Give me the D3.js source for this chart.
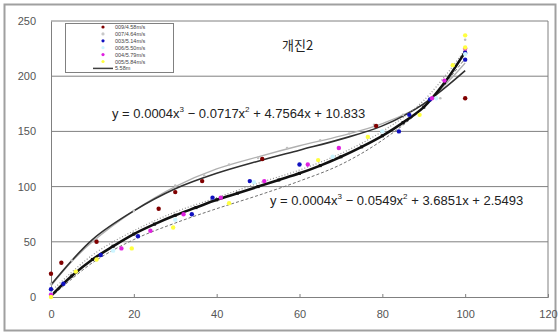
<!DOCTYPE html>
<html><head><meta charset="utf-8">
<script src="https://cdnjs.cloudflare.com/ajax/libs/d3/7.8.5/d3.min.js"></script>
<style>body{margin:0;background:#fff}svg{display:block}</style>
</head><body>
<svg id="c" width="559" height="334"></svg>
<script>
// ---- data ----
const xTicks = [0, 20, 40, 60, 80, 100, 120];
const yTicks = [0, 50, 100, 150, 200, 250];
const title = "개진2";
const eqUpper = ["y = 0.0004x", "3", " − 0.0717x", "2", " + 4.7564x + 10.833"];
const eqLower = ["y = 0.0004x", "3", " − 0.0549x", "2", " + 3.6851x + 2.5493"];
const legendNames = ["009/4.58m/s", "007/4.64m/s", "003/5.14m/s", "006/5.50m/s", "004/5.79m/s", "005/5.84m/s", "5.58m"];

const s009 = [[0,21],[2.5,31],[11,50],[26,80],[30,95],[36.5,105],[51,125],[78.5,155],[100,180]];
const s007 = [[0,12],[5,33],[11,52],[20,78],[30,101],[37,110],[43,120],[50,126],[57,135],[65,142],[72,148],[78,156],[85,165],[94,180],[100,233]];
const s003 = [[0,7],[3,12],[12,38],[21,55],[34,75],[39,90],[48,105],[60,120],[84,150],[86.5,165],[91.5,179],[100,215],[100,221]];
const s006 = [[0,3],[15,42],[30,70],[49,104],[68,127],[80,150],[93,180],[100,220]];
const s004 = [[0,2],[17,44],[24,60],[32,75],[41,90],[51.5,105],[62,120],[69.5,135],[92,180],[95,196],[100,225]];
const s005 = [[0,0],[6,23],[11,34],[19.5,44],[29.5,63],[43,85],[64.5,124],[76.5,145],[89,165],[97,210],[100,226],[100,237]];
const s558 = [[0,1],[5,19],[10,34],[15,46],[20,57],[25,66],[30,74],[35,81],[40,88],[45,94],[50,100],[55,106],[60,112],[65,119],[70,127],[75,136],[80,146],[85,158],[90,172],[95,194],[100,222]];
// trend curves
const trend007 = [[0,10],[5,32],[10,50],[20,78],[30,100],[40,116],[50,127],[60,137],[70,146],[80,157],[90,175],[100,212]];
const trendUpper = [[0,11],[10,52],[20,78],[30,98],[40,112],[50,123],[60,133],[70,143],[80,155],[90,175],[100,205]];
const trendLowerDash = [[0,0],[10,31],[20,52],[30,67],[40,80],[50,92],[60,105],[70,120],[80,142],[90,172],[100,216]];
const trendLowerDot = [[0,5],[10,38],[20,60],[30,77],[40,90],[50,103],[60,115],[70,130],[80,150],[90,178],[100,224]];

const colors = ["#800000", "#c8c8c8", "#1010c0", "#ccf5ff", "#e020e0", "#ffff40", "#303030"];
const seriesList = [s009, s007, s003, s006, s004, s005];

// ---- drawing ----
const svg = d3.select("#c");
const L = 51, R = 548, T = 21, B = 297;
const x = d3.scaleLinear().domain([0, 120]).range([L, R]);
const y = d3.scaleLinear().domain([0, 250]).range([B, T]);

svg.append("rect").attr("x", 4.5).attr("y", 4.5).attr("width", 551).attr("height", 326)
  .attr("fill", "#fff").attr("stroke", "#a0a0a0").attr("stroke-width", 2);

// gridlines
svg.append("g").selectAll("line").data(yTicks.filter(d => d > 0)).join("line")
  .attr("x1", L).attr("x2", R).attr("y1", d => y(d)).attr("y2", d => y(d))
  .attr("stroke", "#808080").attr("stroke-width", 1);
svg.append("line").attr("x1", R).attr("x2", R).attr("y1", T).attr("y2", B).attr("stroke", "#808080");

// axes
const xAxis = svg.append("g").attr("transform", `translate(0,${B})`)
  .call(d3.axisBottom(x).tickValues(xTicks).tickSize(-3).tickPadding(13));
const yAxis = svg.append("g").attr("transform", `translate(${L},0)`)
  .call(d3.axisLeft(y).tickValues(yTicks).tickSize(0).tickPadding(15));
[xAxis, yAxis].forEach(g => {
  g.select(".domain").attr("stroke", "#808080");
  g.selectAll(".tick line").attr("stroke", "#808080");
  g.selectAll("text").attr("fill", "#555").style("font-family", "Liberation Sans, Arial, sans-serif").style("font-size", "11px");
});

const line = d3.line().x(d => x(d[0])).y(d => y(d[1])).curve(d3.curveCatmullRom);

// trend / line series
svg.append("path").datum(trend007).attr("d", line).attr("fill", "none").attr("stroke", "#b0b0b0").attr("stroke-width", 1.3);
svg.append("path").datum(trendUpper).attr("d", line).attr("fill", "none").attr("stroke", "#303030").attr("stroke-width", 1.6);
svg.append("path").datum(trendLowerDash).attr("d", line).attr("fill", "none").attr("stroke", "#707070").attr("stroke-width", 1).attr("stroke-dasharray", "3,2");
svg.append("path").datum(trendLowerDot).attr("d", line).attr("fill", "none").attr("stroke", "#909090").attr("stroke-width", 1.2).attr("stroke-dasharray", "1,2");
svg.append("path").datum(s558).attr("d", line).attr("fill", "none").attr("stroke", "#111").attr("stroke-width", 2.6);
svg.append("g").selectAll("rect").data(s558).join("rect")
  .attr("x", d => x(d[0]) - 1.5).attr("y", d => y(d[1]) - 1.5).attr("width", 3).attr("height", 3).attr("fill", "#111");
svg.append("g").selectAll("circle").data(s007).join("circle")
  .attr("cx", d => x(d[0])).attr("cy", d => y(d[1])).attr("r", 1.3).attr("fill", "#c0c0c0");

// markers
seriesList.forEach((s, i) => {
  if (i === 1) return;
  svg.append("g").selectAll("circle").data(s).join("circle")
    .attr("cx", d => x(d[0])).attr("cy", d => y(d[1])).attr("r", 2.2).attr("fill", colors[i]);
});

// legend
const lg = svg.append("g");
lg.append("rect").attr("x", 65.5).attr("y", 23.5).attr("width", 108).attr("height", 49)
  .attr("fill", "#fff").attr("stroke", "#808080");
legendNames.forEach((n, i) => {
  const yy = 27 + i * 6.9;
  if (i < 6) {
    lg.append("circle").attr("cx", 103).attr("cy", yy).attr("r", 1.6).attr("fill", colors[i]);
  } else {
    lg.append("line").attr("x1", 93).attr("x2", 113).attr("y1", yy).attr("y2", yy).attr("stroke", "#404040").attr("stroke-width", 1.5);
  }
  lg.append("text").attr("x", 115).attr("y", yy + 2).text(n)
    .attr("fill", "#444").style("font-family", "Liberation Sans, Arial, sans-serif").style("font-size", "5.5px");
});

// title
svg.append("text").attr("x", 282).attr("y", 50).text(title)
  .attr("fill", "#222").style("font-family", "Noto Sans CJK KR, sans-serif").style("font-size", "13px");

// equations
function eq(parts, xx, yy) {
  const t = svg.append("text").attr("x", xx).attr("y", yy).attr("fill", "#222")
    .style("font-family", "Liberation Sans, Arial, sans-serif").style("font-size", "13px");
  parts.forEach((p, i) => {
    const sp = t.append("tspan").text(p);
    if (i % 2 === 1) sp.attr("dy", -6).style("font-size", "8px");
    else if (i > 0) sp.attr("dy", 6);
  });
}
eq(eqUpper, 112, 118);
eq(eqLower, 270, 205);
</script>
</body></html>
